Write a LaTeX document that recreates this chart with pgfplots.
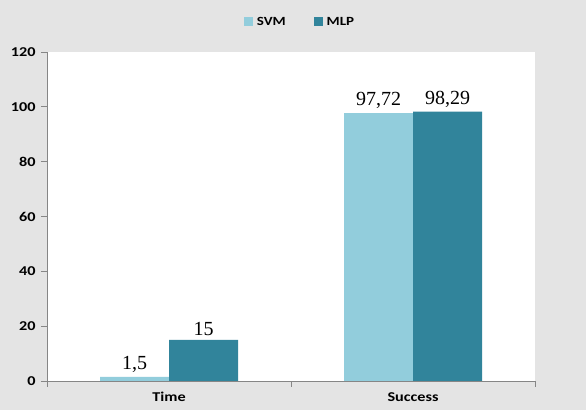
\documentclass[border=0pt]{standalone}
\usepackage{pgfplots}
\pgfplotsset{compat=1.18}
\usepackage{fontspec}
\setmainfont{Liberation Serif}
\newfontfamily\calb[FakeStretch=1.2]{Carlito}
\definecolor{bgc}{RGB}{228,228,228}
\definecolor{svm}{RGB}{146,205,220}
\definecolor{mlp}{RGB}{49,132,155}
\definecolor{axc}{RGB}{134,134,134}
\begin{document}
\begin{tikzpicture}
\fill[bgc] (0,0) rectangle (586bp,410bp);
\begin{axis}[
  at={(47bp,29bp)}, anchor=south west,
  scale only axis, width=488bp, height=329bp,
  xmin=-0.5, xmax=1.5, ymin=0, ymax=120,
  axis x line*=bottom, axis y line*=left,
  axis line style={axc, line width=0.8pt},
  axis background/.style={fill=white},
  ytick={0,20,...,120},
  xtick={0,1}, xticklabels={Time,Success},
  major x tick style={draw=none},
  minor xtick={-0.5,0.5,1.5},
  minor x tick style={axc, line width=0.8pt},
  minor tick length=6bp,
  major tick length=6bp,
  y tick style={axc, line width=0.8pt},
  tick align=outside,
  ticklabel style={font=\calb\bfseries\fontsize{13.5bp}{15bp}\selectfont, text=black},
  /pgf/number format/assume math mode=true,
  yticklabel style={xshift=-2bp},
  xticklabel style={yshift=-2bp},
  ybar=0pt, bar width=69bp,
  point meta=explicit symbolic,
  nodes near coords={\pgfplotspointmeta},
  every node near coord/.append style={font=\fontsize{20bp}{22bp}\selectfont, text=black, inner sep=4bp},
  legend columns=2,
  legend style={at={(0.5,1)}, anchor=center, yshift=30bp, xshift=9bp, draw=none, fill=none,
    font=\calb\bfseries\fontsize{12.5bp}{14bp}\selectfont, text=black,
    /tikz/every odd column/.append style={column sep=2bp},
    /tikz/every even column/.append style={column sep=26bp}},
  legend image code/.code={\fill[#1] (0bp,-4.5bp) rectangle (9bp,4.5bp);},
]
\addplot[fill=svm, draw=none] coordinates {(0,1.5)[1,5] (1,97.72)[97,72]};
\addplot[fill=mlp, draw=none] coordinates {(0,15)[15] (1,98.29)[98,29]};
\legend{SVM,MLP}
\end{axis}
\end{tikzpicture}
\end{document}
